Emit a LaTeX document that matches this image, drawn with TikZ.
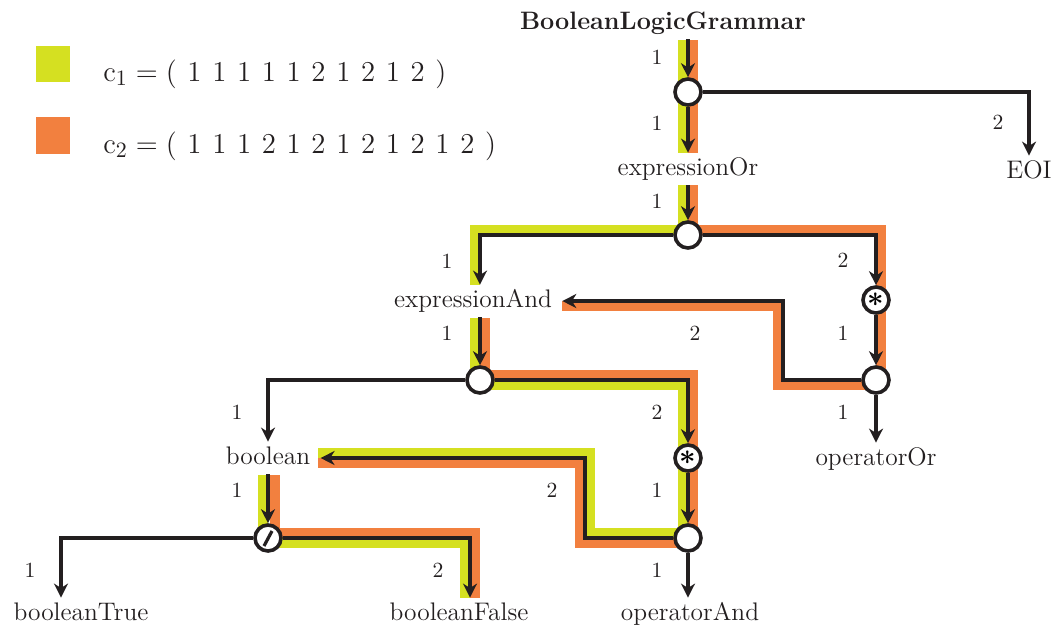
\documentclass[tikz,border=0pt]{standalone}
\usepackage{amsmath,amssymb}
\usepackage{xcolor}
\usepackage{tikz}
\usetikzlibrary{arrows.meta,positioning}
\definecolor{cheminvert}{HTML}{D5E021}
\definecolor{cheminorange}{HTML}{F2803F}
\definecolor{railnoir}{HTML}{231F20}
\newcommand{\esp}{\hspace{.355em}}

\begin{document}
\begin{tikzpicture}[x=0.5pt,y=-0.5pt,
    rail/.style={draw=railnoir, line width=1.55pt,
                 -{Stealth[length=7pt,width=7pt,inset=2.2pt]}},
    bandevert/.style={draw=cheminvert, line width=5pt},
    bandeorange/.style={draw=cheminorange, line width=5pt},
    regle/.style={font=\fontsize{12.7}{15}\selectfont, text=railnoir,
                  text height=9pt, text depth=3pt, inner ysep=2pt, inner xsep=5pt},
    fourche/.style={circle, draw=railnoir, line width=1.8pt, fill=white,
                    minimum size=13pt, inner sep=0pt},
    etoile/.style={fourche, font=\fontsize{13.5}{13.5}\selectfont},
    num/.style={font=\fontsize{10.8}{12}\selectfont, text=railnoir},
    legende/.style={font=\fontsize{15.1}{18}\selectfont, text=railnoir,
                    anchor=base west, inner sep=0pt}]
    \useasboundingbox (0,0) rectangle (1054,628);

    % legende des deux chemins
    \fill[cheminvert]   (36,46)  rectangle (70,82);
    \fill[cheminorange] (36,117) rectangle (70,154);
    \node[legende] (leg1) at (103,81) {$\mathrm{c}_1 = (\esp 1\esp 1\esp 1\esp 1\esp 1\esp 2\esp 1\esp 2\esp 1\esp 2\esp )$};
    \node[legende] (leg2) at (103,153) {$\mathrm{c}_2 = (\esp 1\esp 1\esp 1\esp 2\esp 1\esp 2\esp 1\esp 2\esp 1\esp 2\esp 1\esp 2\esp )$};

    % chemin c2, a gauche du trait
    \draw[bandeorange] (693,40)  -- (693,153);
    \draw[bandeorange] (693,185) -- (693,230) -- (881,230) -- (881,385)
                       -- (778,385) -- (778,306) -- (562,306);
    \draw[bandeorange] (485,318) -- (485,375) -- (693,375) -- (693,543)
                       -- (580,543) -- (580,463) -- (318,463);
    \draw[bandeorange] (275,475) -- (275,533) -- (475,533) -- (475,598);
    % chemin c1, a droite du trait
    \draw[bandevert] (683,40)  -- (683,153);
    \draw[bandevert] (683,185) -- (683,230) -- (475,230) -- (475,285);
    \draw[bandevert] (475,318) -- (475,385) -- (683,385) -- (683,533)
                     -- (590,533) -- (590,453) -- (318,453);
    \draw[bandevert] (263,475) -- (263,543) -- (465,543) -- (465,598);

    % regles
    \node[regle, font=\fontsize{12.6}{15}\selectfont\bfseries] (titre) at (663,23) {BooleanLogicGrammar};
    \node[regle] (eOr)    at (688,169) {expressionOr};
    \node[regle] (eoi)    at (1029,172) {EOI};
    \node[regle] (eAnd)   at (473,301) {expressionAnd};
    \node[regle] (opOr)   at (876,459) {operatorOr};
    \node[regle] (bool)   at (268,458) {boolean};
    \node[regle] (opAnd)  at (690,614) {operatorAnd};
    \node[regle] (bTrue)  at (81,614)  {booleanTrue};
    \node[regle] (bFalse) at (459,614) {booleanFalse};

    % choix, repetitions, alternative
    \node[fourche] (cA)  at (688,92)  {};
    \node[fourche] (cB)  at (688,235) {};
    \node[etoile]  (cS1) at (876,300) {$\boldsymbol{\ast}$};
    \node[fourche] (cC)  at (876,380) {};
    \node[fourche] (cD)  at (480,380) {};
    \node[etoile]  (cS2) at (688,458) {$\boldsymbol{\ast}$};
    \node[fourche] (cE)  at (688,538) {};
    \node[fourche] (cF)  at (268,538) {};
    \draw[railnoir, line width=1.6pt] ([shift={(-4,8)}]cF.center) -- ([shift={(4,-7)}]cF.center);

    % liaisons
    \draw[rail] (titre.south -| cA) -- (cA);
    \draw[rail] (cA) -- (eOr);
    \draw[rail] (cA) -| (eoi);
    \draw[rail] (eOr) -- (cB);
    \draw[rail] (cB) -| (cD |- eAnd.north);
    \draw[rail] (cB) -| (cS1);
    \draw[rail] (cS1) -- (cC);
    \draw[rail] (cC) -- ++(-93,0) |- (eAnd);
    \draw[rail] (cC) -- (opOr);
    \draw[rail] (cD |- eAnd.south) -- (cD);
    \draw[rail] (cD) -| (bool);
    \draw[rail] (cD) -| (cS2);
    \draw[rail] (cS2) -- (cE);
    \draw[rail] (cE) -- ++(-103,0) |- (bool);
    \draw[rail] (cE) -- (cE |- opAnd.north);
    \draw[rail] (bool) -- (cF);
    \draw[rail] (cF) -| ([xshift=-10pt]bTrue.north);
    \draw[rail] (cF) -| ([xshift=5.5pt]bFalse.north);

    % numeros des branches
    \foreach \x/\y/\t [count=\i] in {657/57/1, 657/123/1, 998/122/2, 657/201/1,
        447/261/1, 843/260/2, 843/333/1, 695/333/2, 843/412/1, 447/333/1,
        237/412/1, 657/412/2, 657/490/1, 552/490/2, 657/570/1, 237/490/1,
        30/570/1, 438/570/2}
      \node[num] (k\i) at (\x,\y) {\t};
\end{tikzpicture}
\end{document}
